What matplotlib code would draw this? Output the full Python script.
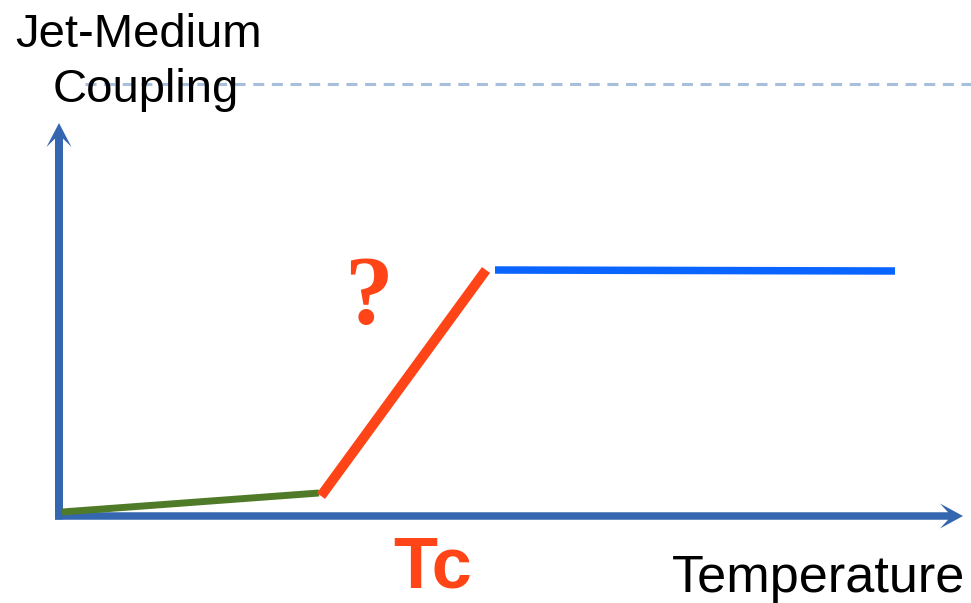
import matplotlib.pyplot as plt

# pixel-like coordinates, y grows downward
W, H = 971, 603

axis_color = "#3566b0"

# curve segments (x, y)
green_x = [62, 319]
green_y = [512, 493]
red_x = [321, 486]
red_y = [496, 270]
blue_x = [495, 895]
blue_y = [270, 271]

# saturation level reference (dashed)
ref_x = [85, W]
ref_y = [84, 84]

# axes: origin and arrow tips
origin = (59, 516)
x_tip = 963
y_tip = 123


def main():
    fig = plt.figure(figsize=(W / 100, H / 100), dpi=100)
    ax = fig.add_axes([0, 0, 1, 1])
    ax.set_xlim(0, W)
    ax.set_ylim(H, 0)
    ax.axis("off")

    ax.plot(ref_x, ref_y, color="#a7bfdb", lw=2.2, dashes=(3.6, 2.5), zorder=1)

    # axes arrows
    ax.arrow(origin[0] - 4, origin[1], x_tip - origin[0] + 4, 0, width=7.5,
             head_width=25, head_length=23, overhang=0.35,
             length_includes_head=True, color=axis_color, lw=0, zorder=2)
    ax.arrow(origin[0], origin[1] + 3.5, 0, y_tip - origin[1] - 3.5, width=8,
             head_width=25, head_length=24, overhang=0.35,
             length_includes_head=True, color=axis_color, lw=0, zorder=2)

    ax.plot(green_x, green_y, color="#4f7a28", lw=5.0, solid_capstyle="butt", zorder=3)
    ax.plot(red_x, red_y, color="#ff4517", lw=7.2, solid_capstyle="butt", zorder=3)
    ax.plot(blue_x, blue_y, color="#0a64ff", lw=5.4, solid_capstyle="butt", zorder=3)

    sans = "Liberation Sans"
    ax.text(15, 47, "Jet-Medium", fontsize=34, family=sans, va="baseline", zorder=4)
    ax.text(53, 102, "Coupling", fontsize=34, family=sans, va="baseline", zorder=4)
    ax.text(672, 592, "Temperature", fontsize=37.6, family=sans, va="baseline")
    # Tc sits right at the bottom edge in the original
    ax.text(393, 602, "Tc", fontsize=52, family=sans, weight="bold",
            color="#ff4517", va="bottom")
    ax.text(368, 323, "?", fontsize=70, family="Liberation Serif", weight="bold",
            color="#ff4517", ha="center", va="baseline")

    fig.savefig("out.png", dpi=100, facecolor="white")


if __name__ == "__main__":
    main()
